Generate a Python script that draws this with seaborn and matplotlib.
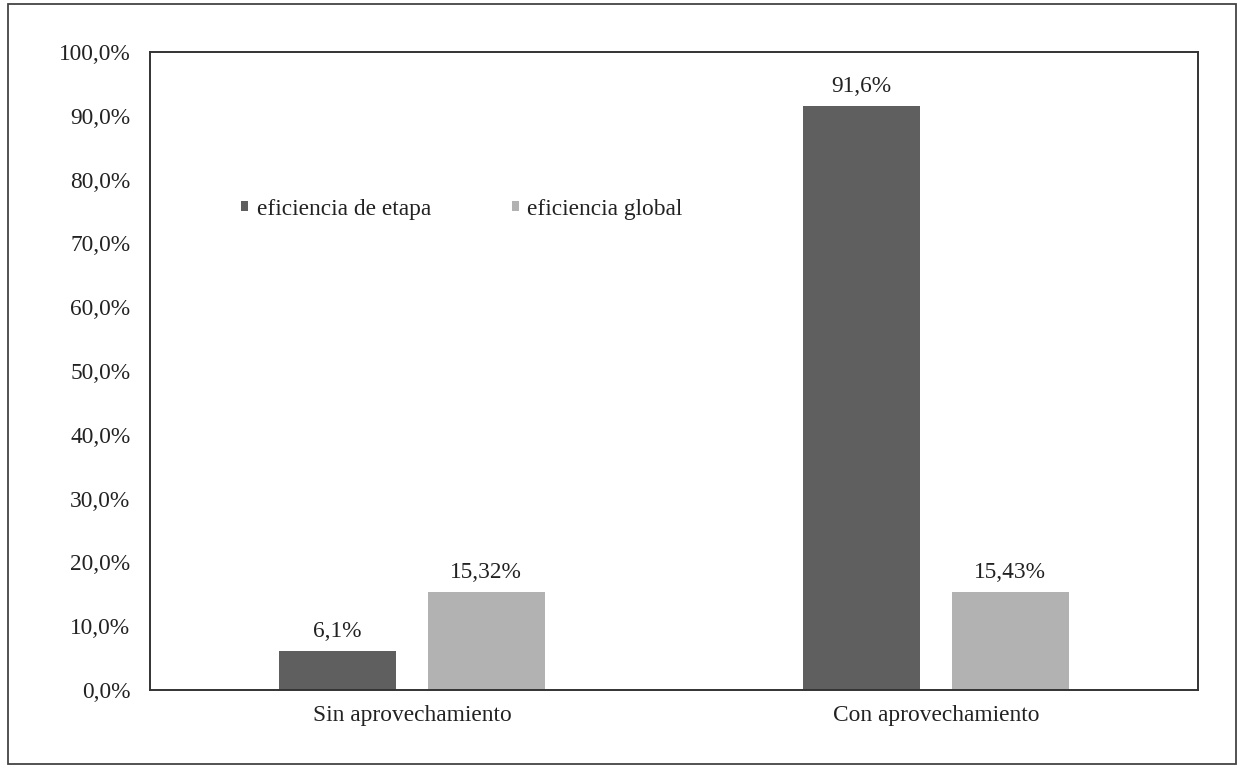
import matplotlib
matplotlib.use("Agg")
import matplotlib.pyplot as plt
import seaborn as sns
import pandas as pd
from matplotlib.patches import Rectangle

# Data
categories = ["Sin aprovechamiento", "Con aprovechamiento"]
series = ["eficiencia de etapa", "eficiencia global"]
etapa = [6.1, 91.6]
global_ = [15.32, 15.43]
etapa_labels = ["6,1%", "91,6%"]
global_labels = ["15,32%", "15,43%"]
yticks = [0, 10, 20, 30, 40, 50, 60, 70, 80, 90, 100]
ytick_labels = ["0,0%", "10,0%", "20,0%", "30,0%", "40,0%", "50,0%",
                "60,0%", "70,0%", "80,0%", "90,0%", "100,0%"]
colors = ["#5f5f5f", "#b2b2b2"]

df = pd.DataFrame({
    "categoria": categories * 2,
    "serie": [series[0]] * 2 + [series[1]] * 2,
    "valor": etapa + global_,
})

sns.set_theme(style="white")
plt.rcParams["font.family"] = ["Liberation Serif", "DejaVu Serif"]
FS = 16.8

W, H = 1238, 768
fig = plt.figure(figsize=(W / 100, H / 100), dpi=100)
ax = fig.add_axes([150 / W, 1 - 690 / H, (1198 - 150) / W, (690 - 52) / H])

sns.barplot(data=df, x="categoria", y="valor", hue="serie",
            palette=colors, width=0.567, gap=0.212, saturation=1,
            ax=ax, linewidth=0)

# value labels above the bars
for cont, labs in zip(ax.containers, [etapa_labels, global_labels]):
    ax.bar_label(cont, labels=labs, padding=6.5, fontsize=FS, color="#222222")

ax.set_ylim(0, 100)
ax.set_yticks(yticks)
ax.set_yticklabels(ytick_labels)
ax.set_xlabel("")
ax.set_ylabel("")
ax.tick_params(axis="both", length=0, labelsize=FS, colors="#222222")
ax.tick_params(axis="y", pad=14)
ax.tick_params(axis="x", pad=11)
for s in ax.spines.values():
    s.set_visible(True)
    s.set_color("#333333")
    s.set_linewidth(1.4)

leg = ax.legend(loc="center left", bbox_to_anchor=(241 / W, 1 - 209 / H),
                bbox_transform=fig.transFigure, ncol=2, frameon=False,
                fontsize=FS, handlelength=0.3, handleheight=0.3,
                handletextpad=0.38, columnspacing=3.45, borderpad=0,
                borderaxespad=0)
for t in leg.get_texts():
    t.set_color("#222222")

# outer chart frame
fig.patches.append(Rectangle((8 / W, 1 - 764 / H), (1236 - 8) / W, (764 - 4) / H,
                             transform=fig.transFigure, fill=False,
                             edgecolor="#444444", linewidth=1.3))

fig.savefig("out.png", dpi=100, facecolor="white")
